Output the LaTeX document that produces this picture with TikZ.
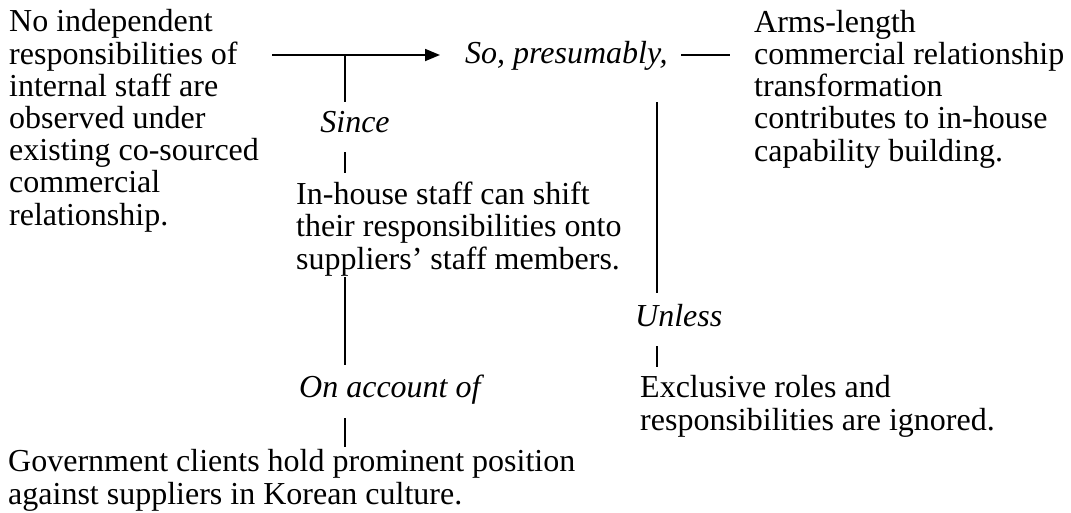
\documentclass[tikz,border=0pt]{standalone}
\usepackage{fontspec}
\setmainfont{Liberation Serif}
\usetikzlibrary{arrows.meta}

\begin{document}
\begin{tikzpicture}[x=1pt,y=-1pt,
	para/.style={anchor=base west,align=left,inner sep=0pt,font=\fontsize{32}{32.2}\selectfont},
	cue/.style={inner sep=0pt,font=\fontsize{32}{32.2}\selectfont\itshape},
	link/.style={line width=1.8pt}]
\useasboundingbox (0,0) rectangle (1071,512);
% the statements (placed by the baseline of their last line)
\node[para] (datum) at (9,225) {No independent\\responsibilities of\\internal staff are\\observed under\\existing co-sourced\\commercial\\relationship.};
\node[para] (claim) at (754,161) {Arms-length\\commercial relationship\\transformation\\contributes to in-house\\capability building.};
\node[para] (warrant) at (296,269) {In-house staff can shift\\their responsibilities onto\\suppliers' staff members.};
\node[para] (rebuttal) at (640,430) {Exclusive roles and\\responsibilities are ignored.};
\node[para] (backing) at (8,504) {Government clients hold prominent position\\against suppliers in Korean culture.};
% the cue words
\node[cue,anchor=base west] (so) at (465,63) {So, presumably,};
\node[cue,anchor=base] (since) at (355,132) {Since};
\node[cue,anchor=base west] (unless) at (635,326) {Unless};
\node[cue,anchor=base west] (account) at (299,397) {On account of};
% the joints
\coordinate (d1) at (272,55);
\coordinate (d2) at (440,55);
\coordinate (w0) at (345,55);
\coordinate (w1) at (345,102);
\coordinate (c1) at (681,55);
\coordinate (c2) at (730,55);
\coordinate (r0) at (657,102);
\coordinate (r1) at (657,293);
\draw[link,-{Triangle[length=15pt,width=12pt]}] (d1) -- (d2);
\draw[link] (c1) -- (c2);
\draw[link] (w0) -- (w1);
\draw[link] (345,152) -- (345,173);
\draw[link] (r0) -- (r1);
\draw[link] (657,346) -- (657,367);
\draw[link] (345,277) -- (345,365);
\draw[link] (345,418) -- (345,447);
\end{tikzpicture}
\end{document}
